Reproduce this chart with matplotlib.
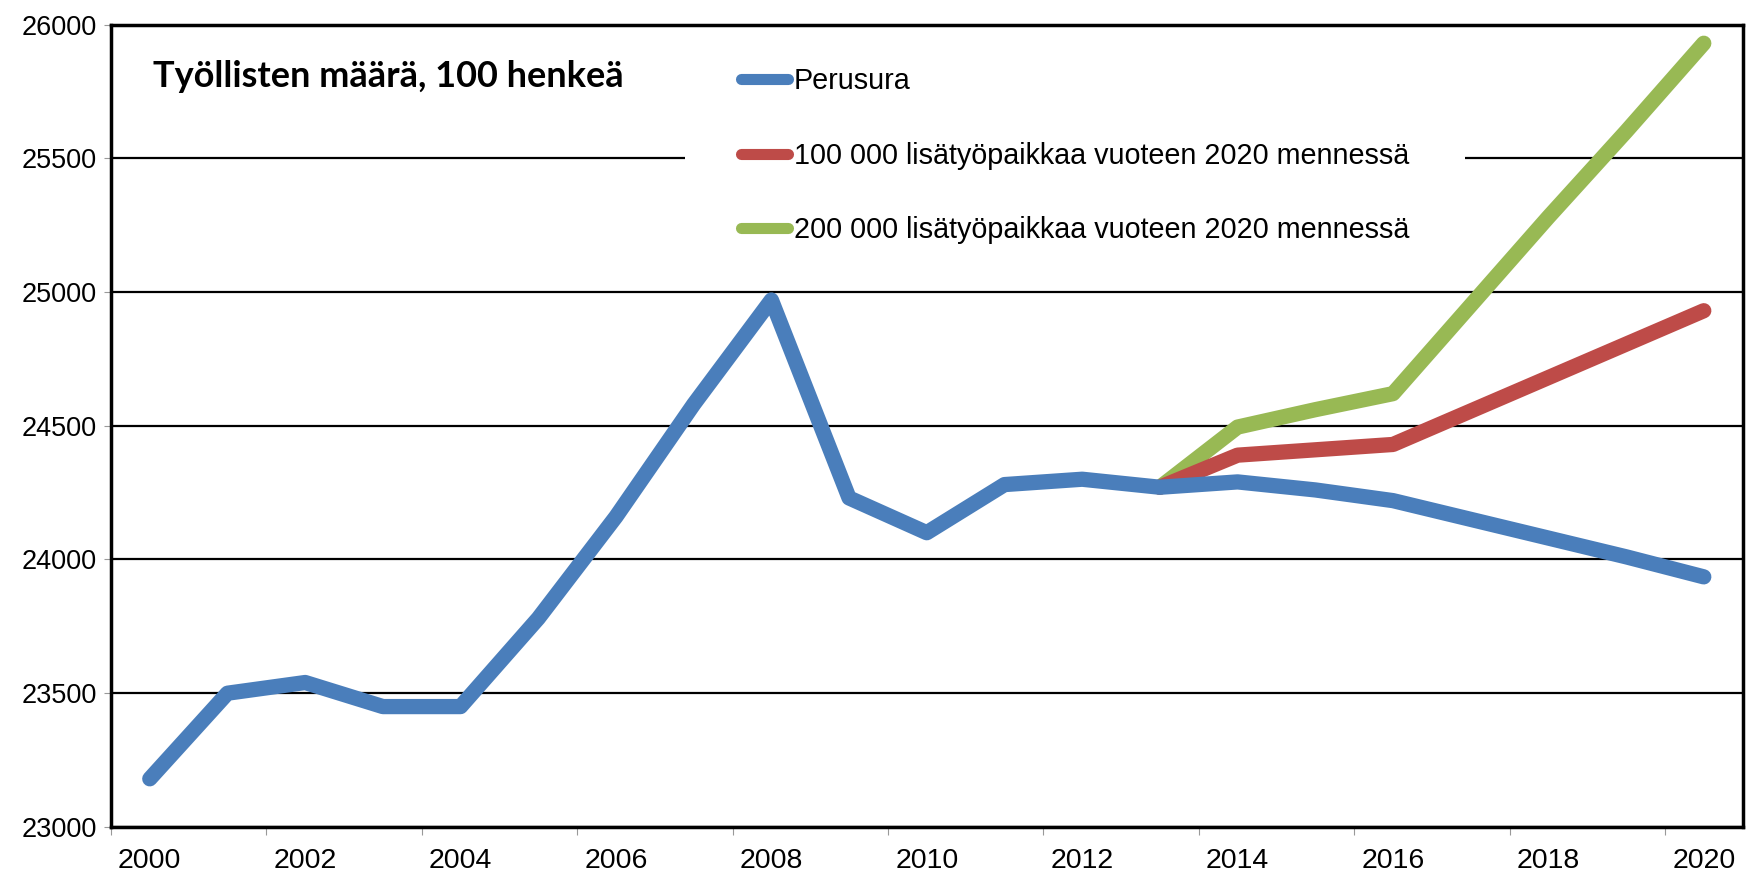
import matplotlib
matplotlib.use("Agg")
import matplotlib.pyplot as plt
import numpy as np
from matplotlib.patches import Rectangle

# data (henkeä / 100)
years = list(range(2000, 2021))
perusura = [23180, 23500, 23540, 23450, 23450, 23780, 24160, 24580, 24970, 24230,
            24100, 24280, 24300, 24270, 24290, 24260, 24220, 24150, 24080, 24010, 23935]
years_sc = list(range(2013, 2021))
lisa_100k = [24270, 24390, 24410, 24430, 24555, 24680, 24805, 24930]
lisa_200k = [24270, 24495, 24560, 24620, 24950, 25280, 25600, 25930]

labels = ['Perusura',
          '100 000 lisätyöpaikkaa vuoteen 2020 mennessä',
          '200 000 lisätyöpaikkaa vuoteen 2020 mennessä']
colors = ['#4a7ebb', '#be4b48', '#98b954']
title = 'Työllisten määrä, 100 henkeä'

plt.rcParams['font.family'] = ['Liberation Sans', 'DejaVu Sans']

fig = plt.figure(figsize=(17.47, 8.76), dpi=100)
ax = fig.add_axes([0.0635, 0.056, 0.934, 0.916])

lw = 11
ax.plot(years, perusura, color=colors[0], lw=lw, solid_capstyle='round',
        solid_joinstyle='round', label=labels[0], zorder=4)
ax.plot(years_sc, lisa_100k, color=colors[1], lw=lw, solid_capstyle='round',
        solid_joinstyle='round', label=labels[1], zorder=3)
ax.plot(years_sc, lisa_200k, color=colors[2], lw=lw, solid_capstyle='round',
        solid_joinstyle='round', label=labels[2], zorder=2)

ax.set_xlim(1999.5, 2020.5)
ax.set_ylim(23000, 26000)
ax.set_yticks(np.arange(23000, 26001, 500))
ax.yaxis.grid(True, color='black', lw=1.6)
ax.set_axisbelow(True)

# tick marks between categories, labels on every other year
ax.set_xticks(np.arange(1999.5, 2020, 2))
ax.set_xticklabels([])
ax.set_xticks(years[::2], minor=True)
ax.set_xticklabels([str(y) for y in years[::2]], minor=True)
ax.tick_params(axis='x', which='major', length=6, color='#999999', direction='out')
ax.tick_params(axis='x', which='minor', length=0, pad=15, labelsize=20.5)
ax.tick_params(axis='y', length=5, color='#999999', pad=5, labelsize=19.5)

for s in ax.spines.values():
    s.set_linewidth(2.5)
    s.set_color('black')

ax.text(0.026, 0.935, title, transform=ax.transAxes, fontsize=26,
        fontweight='bold', family=['Lato', 'DejaVu Sans'], va='center', ha='left')

# white box behind the legend, hiding the gridline like in the original
ax.add_patch(Rectangle((0.352, 0.72), 0.478, 0.26, transform=ax.transAxes,
                       facecolor='white', edgecolor='none', zorder=1.5))
leg = ax.legend(loc='upper left', bbox_to_anchor=(0.37, 0.979), frameon=False,
                fontsize=20.7, handlelength=1.65, handletextpad=0.2,
                labelspacing=1.62)
for h in leg.get_lines():
    h.set_linewidth(8)
    h.set_solid_capstyle('round')

fig.savefig('out.png', dpi=100)
